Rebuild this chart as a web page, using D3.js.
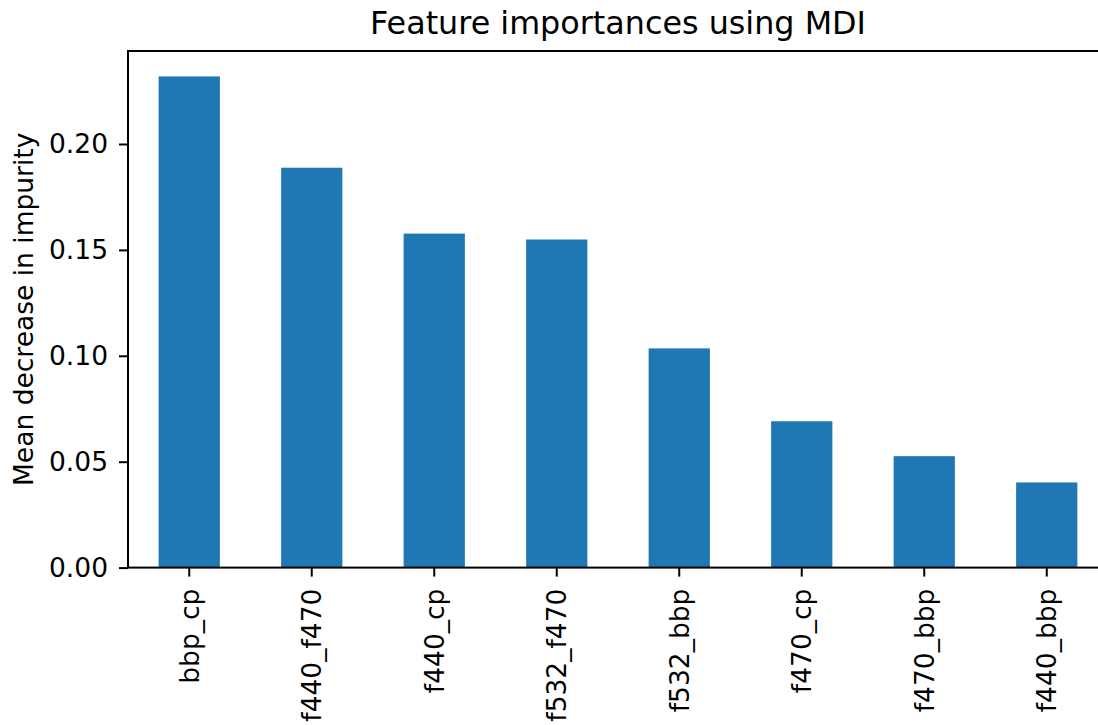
<!DOCTYPE html>
<html>
<head>
<meta charset="utf-8">
<script src="https://cdn.jsdelivr.net/npm/d3@7"></script>
<style>
  body { margin: 0; background: #fff; }
  svg { display: block; font-family: "DejaVu Sans", sans-serif; }
</style>
</head>
<body>
<div id="chart"></div>
<script>
// Feature names, ordered by importance
var features = ["bbp_cp", "f440_f470", "f440_cp", "f532_f470", "f532_bbp", "f470_cp", "f470_bbp", "f440_bbp"];
// Mean decrease in impurity for each feature
var importances = [0.2319, 0.1888, 0.1577, 0.1549, 0.1035, 0.0691, 0.0526, 0.0402];
// Y tick values
var yTicks = [0.00, 0.05, 0.10, 0.15, 0.20];

(function() {
    var svgWidth = 1098, svgHeight = 725;
    // plot area (right edge runs past the picture, as in the reference)
    var left = 128, top = 51, right = 1108, bottom = 567.6;

    var svg = d3.select("#chart").append("svg")
        .attr("width", svgWidth)
        .attr("height", svgHeight);

    var x = d3.scaleBand()
        .domain(features)
        .range([left, right])
        .paddingInner(0.5)
        .paddingOuter(0.25);

    var y = d3.scaleLinear()
        .domain([0, 0.2439])
        .range([bottom, top]);

    // Bars
    svg.selectAll(".bar")
        .data(features)
        .join("rect")
            .attr("class", "bar")
            .attr("x", d => x(d))
            .attr("width", x.bandwidth())
            .attr("y", (d, i) => y(importances[i]))
            .attr("height", (d, i) => y(0) - y(importances[i]))
            .attr("fill", "#1f77b4");

    // Y axis
    var yAxis = svg.append("g")
        .attr("transform", "translate(" + left + ",0)")
        .call(d3.axisLeft(y).tickValues(yTicks).tickFormat(d3.format(".2f")).tickSize(9).tickPadding(11).tickSizeOuter(0));

    // X axis
    var xAxis = svg.append("g")
        .attr("transform", "translate(0," + bottom + ")")
        .call(d3.axisBottom(x).tickSize(9).tickSizeOuter(0));

    xAxis.selectAll("text")
        .attr("transform", "rotate(-90)")
        .attr("x", -21)
        .attr("y", 0)
        .attr("dy", "0.35em")
        .style("text-anchor", "end");

    [yAxis, xAxis].forEach(function(a) {
        a.selectAll("text").attr("font-size", 26.5).attr("fill", "#000").attr("font-family", "DejaVu Sans");
        a.selectAll("line").attr("stroke", "#000").attr("stroke-width", 2);
        a.select(".domain").remove();
    });

    // Frame
    svg.append("rect")
        .attr("x", left)
        .attr("y", top)
        .attr("width", right - left)
        .attr("height", bottom - top)
        .attr("fill", "none")
        .attr("stroke", "#000")
        .attr("stroke-width", 2);

    // Title
    svg.append("text")
        .attr("x", (left + right) / 2)
        .attr("y", top - 17.5)
        .attr("text-anchor", "middle")
        .attr("font-size", 31.8)
        .text("Feature importances using MDI");

    // Y axis label
    svg.append("text")
        .attr("transform", "rotate(-90)")
        .attr("x", -(top + bottom) / 2)
        .attr("y", 33)
        .attr("text-anchor", "middle")
        .attr("font-size", 26.5)
        .text("Mean decrease in impurity");
})();
</script>
</body>
</html>
